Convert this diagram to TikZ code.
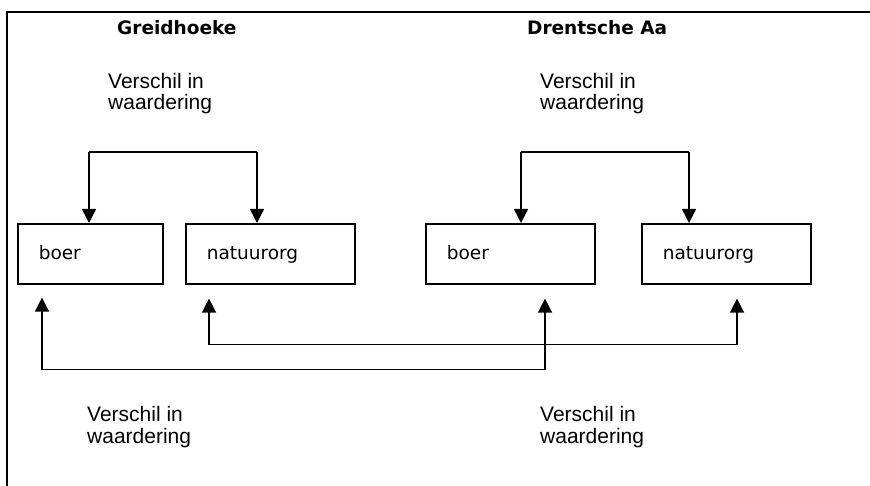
\documentclass[tikz,border=0pt]{standalone}
\usepackage{fontspec}
\setmainfont{Liberation Sans}
\newfontfamily\dv{DejaVu Sans}
\usetikzlibrary{arrows.meta,calc}
\begin{document}
\begin{tikzpicture}[x=1pt,y=-1pt,
  box/.style={draw,line width=1.6pt,anchor=north west,minimum height=60pt,inner xsep=21pt,inner ysep=0pt,
    align=left,text height=12pt,text depth=0pt,font=\dv\fontsize{18.5}{20}\selectfont},
  lbl/.style={anchor=base west,inner sep=0pt,align=left,font=\fontsize{21}{21.5}\selectfont},
  head/.style={anchor=base west,inner sep=0pt,font=\dv\bfseries\fontsize{18.5}{20}\selectfont},
  conn/.style={line width=1.5pt,-{Triangle[width=14pt,length=14pt]}},
  frame/.style={line width=2pt}]
\useasboundingbox (0,0) rectangle (870,486);
\draw[frame] (7,486) -- (7,12.5) -- (870,12.5);
% headings
\node[head] (h1) at (117,35) {Greidhoeke};
\node[head] (h2) at (527,35) {Drentsche Aa};
% labels (anchor at baseline of the last line)
\node[lbl] (l1) at (108,110) {Verschil in\\waardering};
\node[lbl] (l2) at (540,110) {Verschil in\\waardering};
\node[lbl] (l3) at (87,443) {Verschil in\\waardering};
\node[lbl] (l4) at (540,443) {Verschil in\\waardering};
% boxes
\node[box,minimum width=145pt,text width=103pt] (b1) at (17,223) {boer};
\node[box,minimum width=169pt,text width=127pt] (b2) at (185,223) {natuurorg};
\node[box,minimum width=169pt,text width=127pt] (b3) at (425,223) {boer};
\node[box,minimum width=169pt,text width=127pt] (b4) at (641,223) {natuurorg};
% top connectors
\coordinate (t1) at ($(b1.north west)+(72,-71)$);
\coordinate (t2) at ($(b2.north west)+(72,-71)$);
\coordinate (t3) at ($(b3.north west)+(96,-71)$);
\coordinate (t4) at ($(b4.north west)+(48,-71)$);
\draw[line width=1.5pt] (t1) -- (t2);
\draw[conn] (t1) -- (t1 |- b1.north);
\draw[conn] (t2) -- (t2 |- b2.north);
\draw[line width=1.5pt] (t3) -- (t4);
\draw[conn] (t3) -- (t3 |- b3.north);
\draw[conn] (t4) -- (t4 |- b4.north);
% bottom connectors
\coordinate (u1) at ($(b1.south west)+(25,85)$);
\coordinate (u2) at ($(b3.south west)+(120,85)$);
\coordinate (v1) at ($(b2.south west)+(24,60)$);
\coordinate (v2) at ($(b4.south west)+(96,60)$);
\draw[conn] (u2) -- (u1) -- ($(b1.south west)+(25,13)$);
\draw[conn] (u1) -- (u2) -- ($(b3.south west)+(120,14)$);
\draw[conn] (v2) -- (v1) -- ($(b2.south west)+(24,14)$);
\draw[conn] (v1) -- (v2) -- ($(b4.south west)+(96,14)$);
\end{tikzpicture}
\end{document}
